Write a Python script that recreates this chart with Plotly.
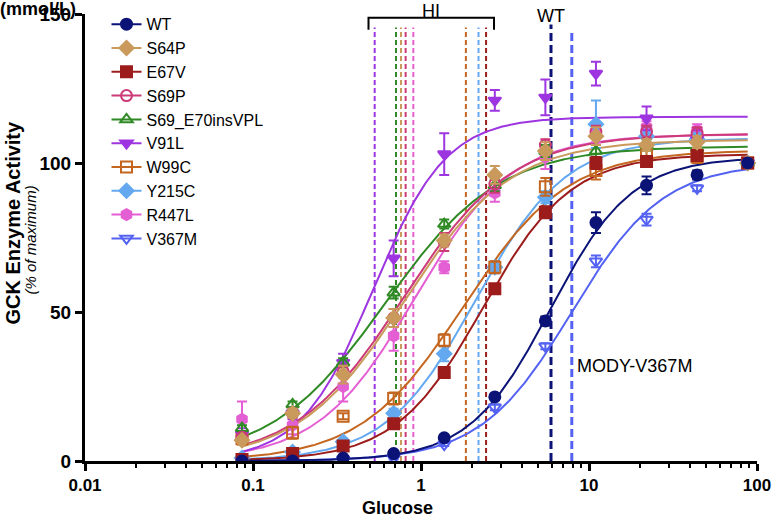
import numpy as np
import plotly.graph_objects as go

# Glucose concentrations (mmol/L)
conc = [0.086, 0.172, 0.344, 0.6875, 1.375, 2.75, 5.5, 11, 22, 44, 88]

names = ["WT", "S64P", "E67V", "S69P", "S69_E70insVPL", "V91L", "W99C", "Y215C", "R447L", "V367M"]

wt_vals = [0, 0, 1, 2.5, 7.8, 21.5, 47, 80, 92.5, 96, 100]
s64p_vals = [7, 16, 29, 48, 74, 96, 104, 109, 106, 107, 100]
e67v_vals = [0.5, 2.5, 5, 12.5, 29.7, 57.8, 83.5, 100, 100.5, 102.5, 100]
s69p_vals = [8, 16, 30, 48, 73.5, 93, 106, 110.5, 110.5, 110, 100]
vpl_vals = [11, 19, 33, 56.5, 79.5, 92.5, 104, 104, 106, 105, 100]
v91l_vals = [9, 16, 33, 68, 103, 121, 122, 130, 115, 108, 100]
w99c_vals = [7.5, 9.5, 15, 21, 40.5, 65, 92, 97.5, 103, 102, 100]
y215c_vals = [1, 3, 6.5, 16, 36, 65, 88.5, 113, 109, 108, 100]
r447l_vals = [14, 12, 25, 42, 65, 90, 102, 110, 112, 111, 100]
v367m_vals = [0, 0, 0.5, 1, 5.5, 18, 38.5, 67, 81, 91.5, 100]

wt_err = [0, 0, 0, 0.5, 0.5, 1, 1.5, 3.5, 3, 1.5, 0]
s64p_err = [1, 1.5, 3, 3, 2, 3, 3, 3, 2, 2, 0]
e67v_err = [0.5, 0.5, 1, 1.5, 1.5, 1, 2, 2, 1.5, 1, 0]
s69p_err = [1, 1.5, 2, 3, 3, 3, 2, 2, 2, 2, 0]
vpl_err = [1, 1, 1.5, 2, 1.5, 2, 2, 2, 2, 2, 0]
v91l_err = [2, 2, 3, 6, 7, 3.5, 6, 4, 4, 3, 0]
w99c_err = [2, 2, 1, 2, 2, 2, 3, 3, 2, 2, 0]
y215c_err = [0.5, 0.5, 1, 1.5, 2.5, 2, 2, 8, 3, 2, 0]
r447l_err = [6, 3, 5, 5, 2, 3, 4, 3, 2, 2, 0]
v367m_err = [0, 0, 0, 0.5, 0.5, 1, 1, 2, 2, 1, 0]

# Hill fit parameters
fit_s05 = [5.9, 0.80, 2.34, 0.79, 0.61, 0.52, 1.8, 2.12, 0.92, 7.9]
fit_nh = [1.8, 1.37, 1.67, 1.35, 1.28, 2.0, 1.42, 1.62, 1.5, 1.6]
fit_vmax = [102, 107.8, 103, 109.8, 105.6, 115.5, 104.3, 108.3, 109.6, 100]

# Threshold (S0.5) dashed lines
hi_thresholds = [0.53, 0.71, 0.76, 0.81, 0.90, 1.85, 2.2, 2.44]
hi_names = ["V91L", "S69_E70insVPL", "S64P", "S69P", "R447L", "W99C", "Y215C", "E67V"]
wt_threshold = 5.94
mody_threshold = 7.9
hi_bracket = [0.487, 2.72]

values = [wt_vals, s64p_vals, e67v_vals, s69p_vals, vpl_vals, v91l_vals,
          w99c_vals, y215c_vals, r447l_vals, v367m_vals]
errors = [wt_err, s64p_err, e67v_err, s69p_err, vpl_err, v91l_err,
          w99c_err, y215c_err, r447l_err, v367m_err]

colors = {
    "WT": "#0b1377",
    "S64P": "#c99a5c",
    "E67V": "#9c1c1c",
    "S69P": "#cc3a78",
    "S69_E70insVPL": "#2f8a25",
    "V91L": "#9d35e0",
    "W99C": "#c4661f",
    "Y215C": "#64a9f0",
    "R447L": "#e45fd3",
    "V367M": "#5462f2",
}
symbols = {
    "WT": "circle",
    "S64P": "diamond",
    "E67V": "square",
    "S69P": "circle-open",
    "S69_E70insVPL": "triangle-up-open",
    "V91L": "triangle-down",
    "W99C": "square-open",
    "Y215C": "diamond",
    "R447L": "hexagon",
    "V367M": "triangle-down-open",
}

FONT = "Liberation Sans, Arial, sans-serif"
fig = go.Figure()

# legend entries
for n in names:
    fig.add_trace(go.Scatter(
        x=[None], y=[None], mode="lines+markers", name=n,
        line=dict(color=colors[n], width=2),
        marker=dict(symbol=symbols[n], color=colors[n], size=11,
                    line=dict(color=colors[n], width=2)),
        showlegend=True))

xs = np.logspace(np.log10(conc[0]), np.log10(conc[-1]), 300)
draw_order = [9, 8, 7, 6, 5, 4, 3, 2, 1, 0]
for i in draw_order:
    n = names[i]
    s, h, vm = fit_s05[i], fit_nh[i], fit_vmax[i]
    ys = vm * (xs / s) ** h / (1 + (xs / s) ** h)
    fig.add_trace(go.Scatter(x=xs, y=ys, mode="lines", showlegend=False,
                             line=dict(color=colors[n], width=2), hoverinfo="skip"))
for i in draw_order:
    n = names[i]
    fig.add_trace(go.Scatter(
        x=conc, y=values[i], mode="markers", showlegend=False, name=n,
        marker=dict(symbol=symbols[n], color=colors[n], size=11,
                    line=dict(color=colors[n], width=2)),
        error_y=dict(type="data", array=errors[i], color=colors[n],
                     thickness=2, width=5)))

shapes = []
for t, n in zip(hi_thresholds, hi_names):
    shapes.append(dict(type="line", xref="x", yref="y", x0=t, x1=t, y0=0, y1=145.5,
                       line=dict(color=colors[n], width=2, dash="5px,3px"), layer="below"))
shapes.append(dict(type="line", xref="x", yref="y", x0=wt_threshold, x1=wt_threshold,
                   y0=0, y1=146.5, line=dict(color=colors["WT"], width=3, dash="8px,4px"),
                   layer="below"))
shapes.append(dict(type="line", xref="x", yref="y", x0=mody_threshold, x1=mody_threshold,
                   y0=0, y1=145, line=dict(color=colors["V367M"], width=3, dash="8px,4px"),
                   layer="below"))
b0, b1 = hi_bracket
shapes.append(dict(type="path", xref="x", yref="y",
                   path=f"M {b0} 144.7 L {b0} 148.7 L {b1} 148.7 L {b1} 144.7",
                   line=dict(color="black", width=2)))

annotations = [
    dict(x=np.log10(np.sqrt(b0 * b1)), y=148.7, xref="x", yref="y", text="HI",
         showarrow=False, yanchor="middle", yshift=7, font=dict(size=18, color="black", family=FONT)),
    dict(x=np.log10(wt_threshold), y=147, xref="x", yref="y", text="WT",
         showarrow=False, yanchor="middle", yshift=7, font=dict(size=18, color="black", family=FONT)),
    dict(x=np.log10(mody_threshold), y=31.8, xref="x", yref="y", text="MODY-V367M",
         showarrow=False, xanchor="left", xshift=3, font=dict(size=18, color="black", family=FONT)),
    dict(x=0, y=1, xref="paper", yref="paper", text="<b>(mmol/L)</b>", showarrow=False,
         xanchor="left", yanchor="middle", xshift=-87, yshift=5,
         font=dict(size=18, color="black", family=FONT)),
    dict(x=0, y=0.5, xref="paper", yref="paper", text="<b>GCK Enzyme Activity</b>",
         textangle=-90, showarrow=False, xanchor="center", yanchor="middle", xshift=-73, yshift=15,
         font=dict(size=20, color="black", family=FONT)),
    dict(x=0, y=0.5, xref="paper", yref="paper", text="<i>(% of maximum)</i>",
         textangle=-90, showarrow=False, xanchor="center", yanchor="middle", xshift=-55, yshift=-3,
         font=dict(size=15, color="black", family=FONT)),
    dict(x=0.5, y=0, xref="paper", yref="paper", text="<b>Glucose</b>", showarrow=False,
         xanchor="center", yanchor="middle", xshift=-24, yshift=-47,
         font=dict(size=18, color="black", family=FONT)),
]

fig.update_layout(
    width=772, height=520,
    margin=dict(l=85, r=15, t=14, b=59, autoexpand=False),
    plot_bgcolor="white", paper_bgcolor="white",
    font=dict(family=FONT, color="black"),
    shapes=shapes, annotations=annotations,
    legend=dict(x=0.032, y=1.015, xanchor="left", yanchor="top",
                font=dict(size=16, family=FONT, color="black"),
                bgcolor="rgba(0,0,0,0)", tracegroupgap=0),
    xaxis=dict(type="log", range=[-2, 2], showgrid=False, zeroline=False, automargin=False,
               showline=True, linecolor="black", linewidth=3,
               ticks="outside", ticklen=7, tickwidth=3, tickcolor="black",
               tickvals=[0.01, 0.1, 1, 10, 100],
               ticktext=["<b>0.01</b>", "<b>0.1</b>", "<b>1</b>", "<b>10</b>", "<b>100</b>"],
               tickfont=dict(size=17, family=FONT, color="black"),
               minor=dict(ticks="outside", ticklen=4, tickwidth=2, tickcolor="black",
                          tickvals=[m * d for d in [0.01, 0.1, 1, 10] for m in range(2, 10)])),
    yaxis=dict(range=[0, 150], showgrid=False, zeroline=False, automargin=False,
               showline=True, linecolor="black", linewidth=3,
               ticks="outside", ticklen=7, tickwidth=3, tickcolor="black",
               tickvals=[0, 50, 100, 150],
               ticktext=["<b>0</b>", "<b>50</b>", "<b>100</b>", "<b>150</b>"],
               tickfont=dict(size=19, family=FONT, color="black")),
)

fig.write_html("out.html", config={"displayModeBar": False},
               post_script="document.body.style.margin='0px';document.body.style.overflow='hidden';")
